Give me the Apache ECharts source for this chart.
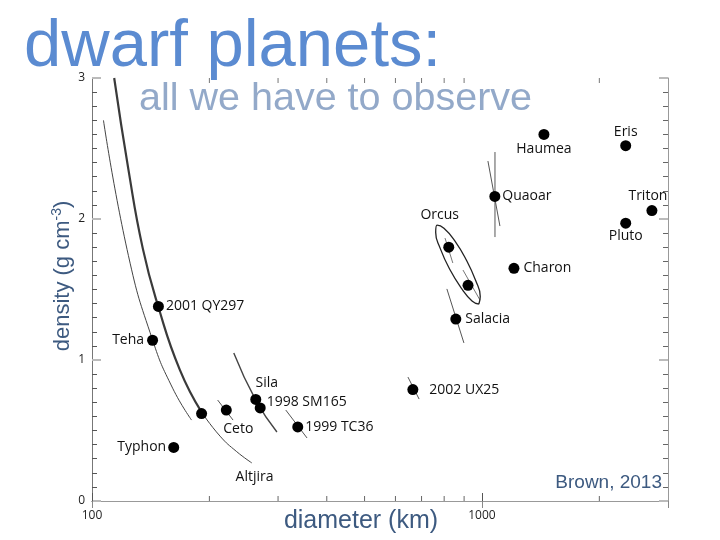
<!DOCTYPE html>
<html>
<head>
<meta charset="utf-8">
<script src="https://cdn.jsdelivr.net/npm/echarts@6/dist/echarts.min.js"></script>
<style>html,body{margin:0;padding:0;background:#fff}#c{width:720px;height:540px}</style>
</head>
<body>
<div id="c"></div>
<script>
// ---- data ----
const names = ['2001 QY297','Teha','Typhon','Altjira','Ceto','Sila','1998 SM165','1999 TC36','2002 UX25','Salacia','Orcus','','Charon','Quaoar','Haumea','Eris','Pluto','Triton'];
const diameters = [148,143,162,191,221,263,270,337,665,857,822,921,1208,1079,1442,2337,2337,2728];
const densities = [1.38,1.14,0.38,0.62,0.645,0.72,0.66,0.525,0.79,1.29,1.80,1.53,1.65,2.16,2.60,2.52,1.97,2.06];

// constant-mass curves and uncertainty segments (diameter, density)
const curveA_x = [114,124,135,148,168,191];
const curveA_y = [3.0,2.35,1.79,1.376,0.93,0.63];
const curveA2_x = [191,213,235,257];
const curveA2_y = [0.63,0.46,0.35,0.27];
const curveB_x = [107,124,143,161,180];
const curveB_y = [2.70,1.74,1.142,0.80,0.574];
const silaCurve_x = [231,263,298];
const silaCurve_y = [1.05,0.716,0.489];
const cetoBar_x = [210,230];       const cetoBar_y = [0.716,0.574];
const tc36Bar_x = [314,356];       const tc36Bar_y = [0.645,0.447];
const ux25Bar_x = [646,690];       const ux25Bar_y = [0.879,0.723];
const salaciaBar_x = [813,899];    const salaciaBar_y = [1.504,1.121];
const orcusBarA_x = [804,842];     const orcusBarA_y = [1.865,1.688];
const orcusBarB_x = [894,988];     const orcusBarB_y = [1.638,1.426];
const quaoarV_x = [1080,1080];     const quaoarV_y = [2.475,1.872];
const quaoarT_x = [1036,1112];     const quaoarT_y = [2.411,1.950];
const orcusEllipse_x = [982,943,885,826,782,761,767,799,852,912,963,990,982];
const orcusEllipse_y = [1.397,1.419,1.510,1.645,1.790,1.904,1.957,1.935,1.845,1.709,1.565,1.450,1.397];

// axis ticks
const xMinorTicks = [200,300,400,500,600,700,800,900,2000];
const xMin = 100, xMax = 3000, yMin = 0, yMax = 3;

// ---- styling (label placement per name) ----
const labelStyle = {
  '2001 QY297': {position:'right', distance:2},
  'Teha': {position:'left', distance:3},
  'Typhon': {position:'left', distance:2},
  'Altjira': {position:'inside', offset:[53,63]},
  'Ceto': {position:'inside', offset:[12,19]},
  'Sila': {position:'inside', offset:[11,-16]},
  '1998 SM165': {position:'right', distance:1, offset:[0,-6]},
  '1999 TC36': {position:'right', distance:2},
  '2002 UX25': {position:'right', distance:11},
  'Salacia': {position:'right', distance:4},
  'Orcus': {position:'inside', offset:[-9,-32]},
  'Charon': {position:'right', distance:4},
  'Quaoar': {position:'right', distance:2},
  'Haumea': {position:'inside', offset:[0,15]},
  'Eris': {position:'inside', offset:[0,-14]},
  'Pluto': {position:'inside', offset:[0,13]},
  'Triton': {position:'inside', offset:[-4,-15]}
};

const zip = (xs, ys) => xs.map((x, i) => [x, ys[i]]);
function lineSeries(xs, ys, width, color, smooth) {
  return {
    type: 'line', data: zip(xs, ys), symbol: 'none', smooth: smooth || 0,
    lineStyle: {width: width, color: color, opacity: 1}, silent: true, clip: false, z: 2,
    animation: false
  };
}

const pointData = names.map((n, i) => {
  const st = labelStyle[n];
  const d = {name: n, value: [diameters[i], densities[i]]};
  d.label = st ? Object.assign({show: true}, st) : {show: false};
  return d;
});

const chart = echarts.init(document.getElementById('c'), null, {renderer: 'canvas'});
const axisFont = '"Open Sans", "DejaVu Sans", sans-serif';
const slideFont = '"Liberation Sans", Arial, sans-serif';

const option = {
  animation: false,
  backgroundColor: '#ffffff',
  grid: {left: 92, right: 52, top: 78, bottom: 39, containLabel: false},
  xAxis: [
    {
      type: 'log', logBase: 10, min: xMin, max: xMax, position: 'bottom',
      axisLine: {lineStyle: {color: '#555', width: 1}},
      axisTick: {inside: true, length: 8, lineStyle: {color: '#555'}},
      minorTick: {show: false},
      splitLine: {show: false},
      axisLabel: {fontSize: 12, color: '#222', margin: 9, fontFamily: axisFont, showMaxLabel: false,
                  formatter: v => String(Math.round(v))}
    },
    {
      type: 'log', logBase: 10, min: xMin, max: xMax, position: 'top',
      axisLine: {lineStyle: {color: '#999', width: 1}},
      axisTick: {inside: true, length: 7, lineStyle: {color: '#888'}},
      splitLine: {show: false},
      axisLabel: {show: false}
    }
  ],
  yAxis: [
    {
      type: 'value', min: yMin, max: yMax, interval: 1, position: 'left',
      axisLine: {show: true, lineStyle: {color: '#777', width: 1}},
      axisTick: {show: true, inside: true, length: 9, lineStyle: {color: '#bbb', width: 2}},
      minorTick: {show: true, splitNumber: 10, length: 5, lineStyle: {color: '#555', width: 1}},
      splitLine: {show: false},
      axisLabel: {fontSize: 12, color: '#222', margin: 7, fontFamily: axisFont}
    },
    {
      type: 'value', min: yMin, max: yMax, interval: 1, position: 'right',
      axisLine: {show: true, lineStyle: {color: '#999', width: 1}},
      axisTick: {show: true, inside: true, length: 9, lineStyle: {color: '#bbb', width: 2}},
      minorTick: {show: true, splitNumber: 10, length: 5, lineStyle: {color: '#666', width: 1}},
      splitLine: {show: false},
      axisLabel: {show: false}
    }
  ],
  graphic: [
    {type: 'text', x: 24, y: 48, silent: true,
     style: {text: 'dwarf planets:', fontSize: 67, fontFamily: slideFont, fill: '#5b8bd1', verticalAlign: 'middle'}},
    {type: 'text', x: 139, y: 99, silent: true,
     style: {text: 'all we have to observe', fontSize: 39.5, fontFamily: slideFont, fill: '#93a9c9', verticalAlign: 'middle'}},
    {type: 'text', x: 662, y: 483, silent: true,
     style: {text: 'Brown, 2013', fontSize: 19, fontFamily: slideFont, fill: '#3d5a80', align: 'right', verticalAlign: 'middle'}},
    {type: 'text', x: 361, y: 521, silent: true,
     style: {text: 'diameter (km)', fontSize: 25, fontFamily: slideFont, fill: '#3d5a80', align: 'center', verticalAlign: 'middle'}},
    {type: 'text', x: 63, y: 276, rotation: Math.PI / 2, silent: true,
     style: {
       text: '{a|density (g cm}{s|-3}{a|)}',
       align: 'center', verticalAlign: 'middle',
       rich: {
         a: {fontSize: 22, fontFamily: slideFont, fill: '#3d5a80', lineHeight: 25},
         s: {fontSize: 14, fontFamily: slideFont, fill: '#3d5a80', lineHeight: 25, verticalAlign: 'top'}
       }
     }}
  ],
  series: [
    lineSeries(curveA_x, curveA_y, 2.2, '#3a3a3a', true),
    lineSeries(curveA2_x, curveA2_y, 1, '#444', true),
    lineSeries(curveB_x, curveB_y, 1, '#444', true),
    lineSeries(silaCurve_x, silaCurve_y, 1.4, '#444', true),
    lineSeries(cetoBar_x, cetoBar_y, 1, '#555'),
    lineSeries(tc36Bar_x, tc36Bar_y, 1, '#555'),
    lineSeries(ux25Bar_x, ux25Bar_y, 1, '#555'),
    lineSeries(salaciaBar_x, salaciaBar_y, 1, '#555'),
    lineSeries(orcusBarA_x, orcusBarA_y, 1, '#777'),
    lineSeries(orcusBarB_x, orcusBarB_y, 1, '#777'),
    lineSeries(quaoarV_x, quaoarV_y, 1, '#555'),
    lineSeries(quaoarT_x, quaoarT_y, 1, '#555'),
    lineSeries(orcusEllipse_x, orcusEllipse_y, 1.3, '#222', 0.5),
    {
      type: 'scatter', data: pointData, symbol: 'circle', symbolSize: 11, z: 5,
      itemStyle: {color: '#000', opacity: 1},
      label: {fontSize: 14, color: '#111', fontFamily: axisFont, formatter: '{b}', opacity: 1},
      silent: true, animation: false
    },
    {
      type: 'scatter', data: xMinorTicks.map(v => [v, yMin]), symbol: 'rect', symbolSize: [1, 5],
      symbolOffset: [0, -2.5], itemStyle: {color: '#666', opacity: 1}, clip: false, silent: true, z: 3
    },
    {
      type: 'scatter', data: xMinorTicks.map(v => [v, yMax]), symbol: 'rect', symbolSize: [1, 5],
      symbolOffset: [0, 2.5], itemStyle: {color: '#777', opacity: 1}, clip: false, silent: true, z: 3
    }
  ]
};
chart.setOption(option);
</script>
</body>
</html>
